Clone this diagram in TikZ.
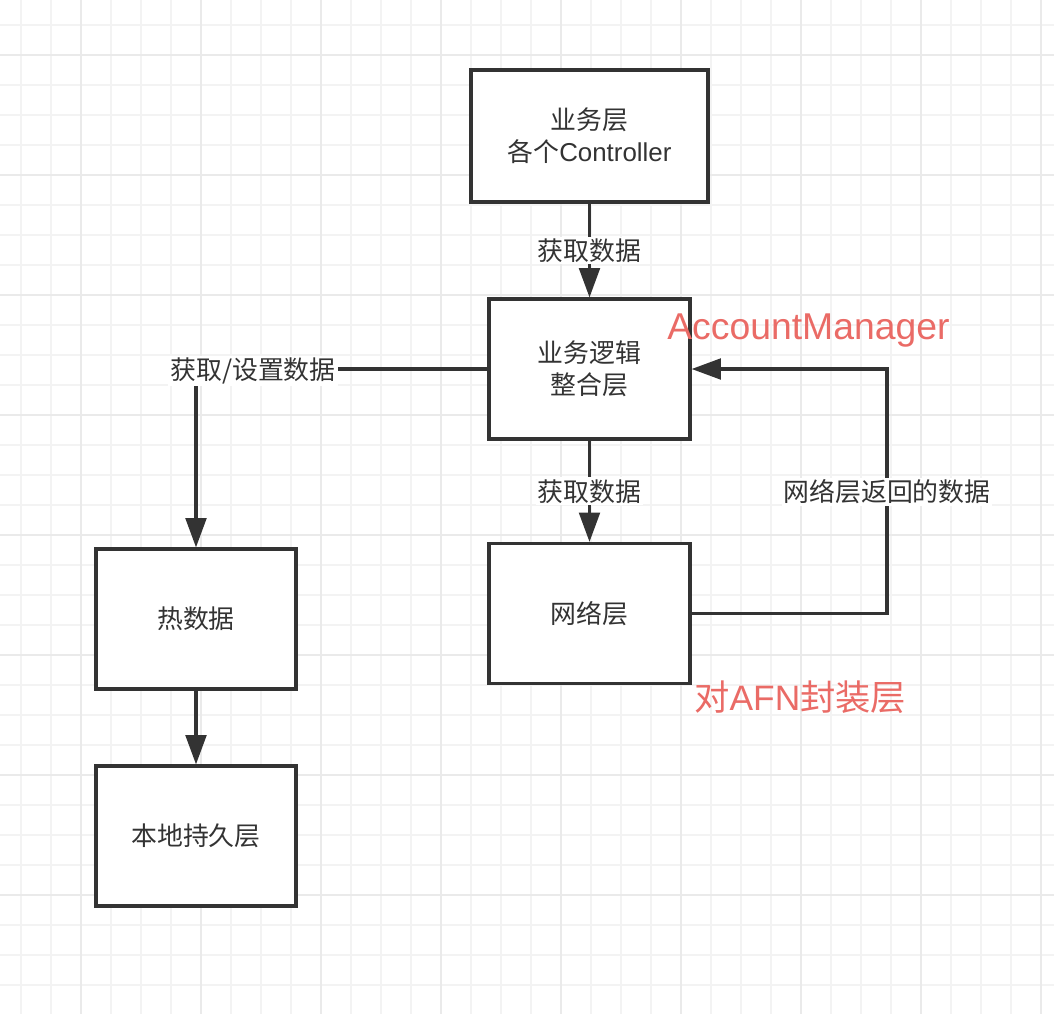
\documentclass[tikz,border=0pt]{standalone}
\usepackage{fontspec}
\setmainfont{Liberation Sans}
\newfontfamily\cjk{Noto Sans CJK SC}
\usetikzlibrary{arrows.meta,calc}
\definecolor{ink}{HTML}{333333}
\definecolor{gridminor}{HTML}{F3F3F3}
\definecolor{gridmajor}{HTML}{EAEAEA}
\definecolor{note}{HTML}{EA6B66}
\newcommand{\zh}[1]{{\cjk #1}}
\begin{document}
\begin{tikzpicture}[x=0.75pt,y=-0.75pt,
  layerbox/.style={draw=ink,line width=2.4pt,fill=white,align=center,
    font=\fontsize{19.4pt}{24pt}\selectfont,text=ink},
  flow/.style={color=ink,line width=2.4pt,-{Triangle[length=22pt,width=15.5pt]}},
  edgelabel/.style={fill=white,inner sep=1.5pt,text=ink,
    font=\fontsize{19.4pt}{24pt}\selectfont},
  remark/.style={text=note,anchor=west,inner sep=0pt}]
% background and grid
\fill[white] (0,0) rectangle (1054,1014);
\useasboundingbox (0,0) rectangle (1054,1014);
\foreach \gx in {21,51,...,1051} \draw[gridminor,line width=1.1pt] (\gx,0) -- (\gx,1014);
\foreach \gy in {25,55,...,1014} \draw[gridminor,line width=1.1pt] (0,\gy) -- (1054,\gy);
\foreach \gx in {81,201,...,1051} \draw[gridmajor,line width=1.1pt] (\gx,0) -- (\gx,1014);
\foreach \gy in {55,175,...,1014} \draw[gridmajor,line width=1.1pt] (0,\gy) -- (1054,\gy);
% layers
\node[layerbox,minimum width=177.75pt,minimum height=99pt] (biz) at (589.5,136)
  {\zh{业务层}\\\zh{各个}Controller};
\node[layerbox,minimum width=150.75pt,minimum height=105pt] (logic) at (589.5,369)
  {\zh{业务逻辑}\\\zh{整合层}};
\node[layerbox,minimum width=150.75pt,minimum height=105pt] (net) at (589.5,613.5)
  {\zh{网络层}};
\node[layerbox,minimum width=150pt,minimum height=105pt] (hot) at (196,619)
  {\zh{热数据}};
\node[layerbox,minimum width=150pt,minimum height=105pt] (local) at (196,836)
  {\zh{本地持久层}};
\coordinate (ret) at (887,492);
% connectors
\draw[flow] (biz) -- (logic);
\node[edgelabel] at ($(biz.south)!0.5!(logic.north)$) {\zh{获取数据}};
\draw[flow] (logic) -- (net);
\node[edgelabel] at ($(logic.south)!0.5!(net.north)$) {\zh{获取数据}};
\draw[flow] (logic.west) -| (hot.north);
\node[edgelabel] at (253,371) {\zh{获取/设置数据}};
\draw[flow] (net.east) -| (ret) |- (logic.east);
\node[edgelabel] at (ret) {\zh{网络层返回的数据}};
\draw[flow] (hot) -- (local);
% notes
\node[remark,font=\fontsize{28pt}{30pt}\selectfont] at (667,331) {AccountManager};
\node[remark,font=\fontsize{26.5pt}{30pt}\selectfont] at (694,697) {\zh{对}AFN\zh{封装层}};
\end{tikzpicture}
\end{document}
